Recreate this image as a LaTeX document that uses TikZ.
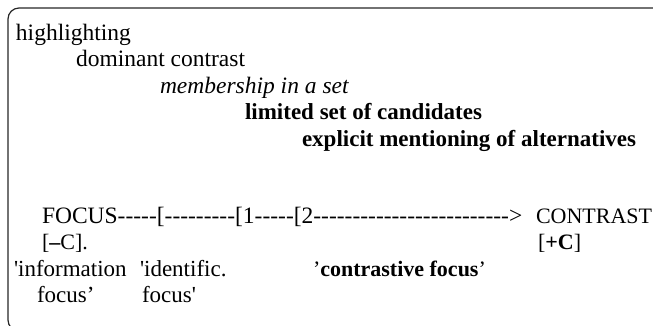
\documentclass[tikz,border=0pt]{standalone}
\usepackage{fontspec}
\setmainfont{Liberation Serif}[Ligatures=TeXOff]
\begin{document}
\begin{tikzpicture}[x=1pt,y=-1pt,
  lbl/.style={anchor=base west, inner sep=0pt, outer sep=0pt,
    font=\fontsize{23.5}{26}\selectfont},
  scaleline/.style={lbl, font=\fontsize{23.5}{26}\selectfont},
  caps/.style={lbl, font=\fontsize{22}{26}\selectfont},
  note/.style={lbl, font=\fontsize{23}{26}\selectfont},
  blbl/.style={lbl, font=\fontsize{23}{26}\selectfont\bfseries},
  frame/.style={line width=1.2pt, rounded corners=11pt, draw=black!85}]
\useasboundingbox (0,0) rectangle (653,325);
% open frame, running past the right and bottom edges
\draw[frame] (8,8) rectangle (664,331);
% scale of notions
\node[lbl]  (hl) at (16,40)    {highlighting};
\node[lbl]  (dc) at (76,66.5)  {dominant contrast};
\node[lbl]  (ms) at (160,93)   {\itshape membership in a set};
\node[blbl] (ls) at (245,119.5){limited set of candidates};
\node[blbl] (ea) at (302,146)  {explicit mentioning of alternatives};
% focus -- contrast continuum
\node[scaleline] (fo) at (42,223) {FOCUS-----[---------[1-----[2-------------------------{>}};
\node[caps] (co) at (536,223)  {CONTRAST};
\node[caps] (mc) at (42,249.5) {[\textbf{–}C].};
\node[caps] (pc) at (538,249.5){[\textbf{+C}]};
\node[note] (if) at (14,276)   {'information};
\node[note] (if2) at (37,302.5){focus’};
\node[note] (id) at (140,276)  {'identific.};
\node[note] (id2) at (142,302.5){focus'};
\node[lbl, font=\fontsize{22}{26}\selectfont] (cf) at (313,276)
  {’\textbf{contrastive focus}’};
\end{tikzpicture}
\end{document}
